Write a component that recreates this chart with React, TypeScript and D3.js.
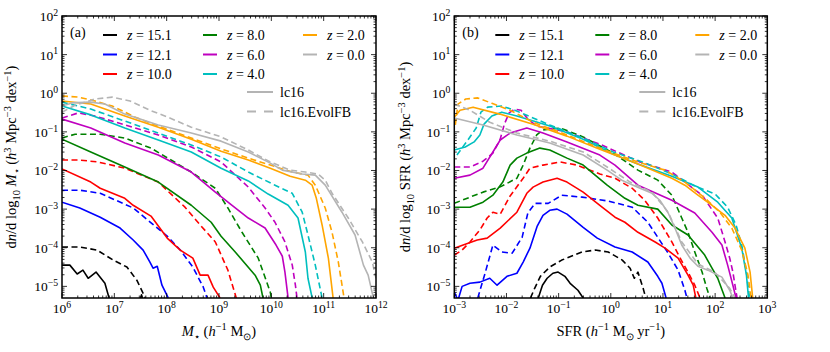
import React from 'react';
import * as d3 from 'd3';

type Pt = [number, number]; // [log10 x, log10 y]
type Run = { t: string; it?: boolean; sup?: boolean; sub?: boolean };

const redshiftLabels = ['15.1', '12.1', '10.0', '8.0', '6.0', '4.0', '2.0', '0.0'];
const seriesColors = ['#000000', '#0000ff', '#ff0000', '#008000', '#bf00bf', '#00bfbf', '#ffa500', '#b4b4b4'];
const modelLabels = ['lc16', 'lc16.EvolFB'];

// (a) stellar mass function, lc16 (solid), one list per redshift
const smfLc16: Pt[][] = [
  [[6, -4.45], [6.15, -4.45], [6.29, -4.68], [6.4, -4.58], [6.5, -4.79], [6.65, -4.63], [6.82, -4.92], [6.92, -5.4], [7.45, -5.5], [7.52, -5.22], [7.58, -5.5]],
  [[6, -2.82], [6.34, -2.97], [6.73, -3.21], [7.11, -3.49], [7.36, -3.8], [7.55, -4.06], [7.68, -4.37], [7.74, -4.53], [7.82, -4.48], [7.91, -4.97], [8.03, -5.3]],
  [[6, -1.96], [6.55, -2.3], [6.73, -2.46], [7.2, -2.72], [7.36, -2.9], [7.7, -3.18], [8.01, -3.75], [8.26, -4.06], [8.5, -4.27], [8.64, -4.71], [8.79, -4.71], [8.89, -5.02], [9.02, -5.3]],
  [[6, -1.19], [6.55, -1.52], [7.2, -1.91], [7.84, -2.3], [8.47, -2.9], [8.85, -3.34], [9.04, -3.7], [9.31, -4.11], [9.69, -4.71], [9.79, -4.97], [9.84, -5.3]],
  [[6, -0.67], [6.55, -0.9], [7.2, -1.29], [7.84, -1.6], [8.47, -2.04], [8.93, -2.56], [9.25, -2.9], [9.56, -3.23], [9.88, -3.49], [10.09, -3.93], [10.21, -4.22], [10.26, -4.63], [10.32, -5.3]],
  [[6, -0.33], [6.55, -0.56], [7.2, -0.9], [7.84, -1.21], [8.47, -1.52], [9.04, -1.94], [9.56, -2.27], [9.94, -2.61], [10.32, -2.9], [10.51, -3.23], [10.65, -4.11], [10.7, -4.79], [10.78, -5.3]],
  [[6, -0.2], [6.55, -0.28], [7.2, -0.59], [7.84, -0.88], [8.47, -1.19], [9.04, -1.5], [9.56, -1.73], [9.98, -1.94], [10.36, -2.15], [10.65, -2.25], [10.78, -2.38], [10.86, -2.72], [10.97, -3.41], [11.09, -4.27], [11.18, -5.3]],
  [[6, -0.33], [6.19, -0.25], [6.54, -0.23], [6.82, -0.28], [7.2, -0.54], [7.84, -0.82], [8.47, -1.03], [9.04, -1.24], [9.56, -1.52], [9.98, -1.81], [10.21, -1.99], [10.59, -2.09], [10.84, -2.12], [11.03, -2.38], [11.35, -3.08], [11.6, -3.67], [11.76, -4.45], [11.85, -4.71], [11.95, -5.3]],
];

// (a) stellar mass function, lc16.EvolFB (dashed)
const smfEvolFB: Pt[][] = [
  [[6, -3.98], [6.34, -3.98], [6.67, -4.06], [6.98, -4.32], [7.24, -4.5], [7.43, -4.84], [7.55, -5.18], [7.59, -5.3]],
  [[6, -2.51], [6.34, -2.51], [6.73, -2.59], [7.36, -2.97], [8.01, -3.7], [8.26, -4.06], [8.5, -4.5], [8.7, -5.02], [8.77, -5.3]],
  [[6, -1.73], [6.34, -1.73], [6.69, -1.78], [7.2, -1.94], [7.84, -2.3], [8.35, -2.95], [8.66, -3.44], [8.93, -3.85], [9.17, -4.58], [9.33, -5.3]],
  [[6, -1.16], [6.25, -1.06], [6.73, -1.06], [7.2, -1.16], [7.7, -1.42], [8.47, -2.04], [8.93, -2.46], [9.17, -2.97], [9.44, -3.6], [9.75, -4.27], [9.98, -5.15], [10.0, -5.3]],
  [[6, -0.64], [6.31, -0.51], [6.63, -0.59], [7.2, -0.82], [7.84, -1.08], [8.47, -1.39], [9.04, -1.78], [9.56, -2.43], [9.88, -2.97], [10.07, -3.34], [10.26, -3.85], [10.4, -4.45], [10.46, -4.97], [10.49, -5.3]],
  [[6, -0.23], [6.55, -0.41], [7.2, -0.72], [7.84, -1.03], [8.47, -1.34], [9.04, -1.65], [9.56, -2.04], [10.07, -2.38], [10.4, -2.59], [10.59, -3.08], [10.7, -3.67], [10.84, -4.45], [10.97, -5.3]],
  [[6, -0.07], [6.31, -0.1], [6.63, -0.2], [6.96, -0.33], [7.4, -0.62], [7.84, -0.85], [8.47, -1.16], [9.04, -1.44], [9.56, -1.68], [9.98, -1.86], [10.4, -2.04], [10.7, -2.12], [10.84, -2.38], [11.03, -2.97], [11.16, -3.6], [11.28, -4.37], [11.39, -5.3]],
  [[6, -0.49], [6.25, -0.31], [6.63, -0.15], [6.96, -0.1], [7.3, -0.2], [7.68, -0.44], [8.06, -0.64], [8.47, -0.88], [9.04, -1.13], [9.56, -1.47], [9.98, -1.78], [10.36, -1.99], [10.65, -2.04], [10.89, -2.09], [11.03, -2.25], [11.16, -2.59], [11.47, -3.23], [11.74, -3.85], [11.93, -4.37], [12.0, -4.79]],
];

// (b) star formation rate function, lc16 (solid)
const sfrfLc16: Pt[][] = [
  [[-1.39, -5.3], [-1.31, -4.97], [-1.22, -4.79], [-1.11, -4.66], [-1.01, -4.63], [-0.88, -4.74], [-0.78, -4.92], [-0.63, -5.1], [-0.53, -5.3]],
  [[-3.0, -5.15], [-2.93, -5.36], [-2.85, -5.0], [-2.7, -4.92], [-2.51, -4.89], [-2.32, -4.79], [-2.18, -4.97], [-1.99, -4.74], [-1.8, -4.66], [-1.68, -4.37], [-1.55, -4.01], [-1.41, -3.44], [-1.3, -3.16], [-1.17, -3.03], [-1.03, -3.0], [-0.84, -3.13], [-0.53, -3.47], [-0.26, -3.75], [0.08, -3.98], [0.41, -4.11], [0.71, -4.37], [0.9, -4.74], [0.98, -4.92], [1.06, -5.3]],
  [[-3.0, -4.01], [-2.83, -3.93], [-2.56, -3.8], [-2.37, -3.75], [-2.12, -3.49], [-1.8, -3.08], [-1.61, -2.59], [-1.49, -2.43], [-1.3, -2.3], [-1.03, -2.2], [-0.84, -2.3], [-0.53, -2.56], [-0.21, -2.9], [0.08, -3.21], [0.27, -3.34], [0.52, -3.6], [0.85, -3.85], [1.04, -4.01], [1.29, -4.27], [1.48, -4.71], [1.58, -4.97], [1.63, -5.3]],
  [[-3.0, -2.95], [-2.7, -2.95], [-2.45, -2.82], [-2.26, -2.64], [-2.07, -2.3], [-1.93, -1.86], [-1.8, -1.68], [-1.61, -1.55], [-1.36, -1.42], [-1.17, -1.47], [-0.84, -1.68], [-0.53, -1.86], [-0.07, -2.38], [0.27, -2.72], [0.52, -2.9], [0.9, -3.0], [1.17, -3.41], [1.48, -3.67], [1.8, -4.19], [1.94, -4.53], [2.05, -4.79], [2.19, -5.3]],
  [[-3.0, -2.2], [-2.7, -2.12], [-2.45, -1.94], [-2.26, -1.52], [-2.12, -1.21], [-1.93, -1.03], [-1.61, -0.9], [-1.3, -1.03], [-0.84, -1.26], [-0.21, -1.6], [0.08, -1.86], [0.52, -2.38], [1.17, -2.77], [1.61, -3.1], [1.94, -3.6], [2.13, -3.93], [2.24, -4.45], [2.34, -4.97], [2.4, -5.3]],
  [[-3.0, -1.47], [-2.79, -1.39], [-2.62, -1.26], [-2.51, -1.08], [-2.43, -0.8], [-2.28, -0.59], [-2.09, -0.49], [-1.8, -0.59], [-1.17, -0.85], [-0.53, -1.19], [0.05, -1.58], [0.52, -1.83], [1.17, -2.15], [1.67, -2.43], [2.05, -2.82], [2.32, -3.23], [2.51, -4.01], [2.6, -4.71], [2.64, -5.3]],
  [[-3.0, -0.62], [-2.89, -0.44], [-2.64, -0.36], [-2.13, -0.54], [-1.49, -0.8], [-0.84, -1.11], [-0.21, -1.45], [0.52, -1.83], [1.17, -2.2], [1.42, -2.38], [1.67, -2.64], [1.94, -2.9], [2.19, -3.16], [2.38, -3.49], [2.57, -4.01], [2.67, -4.63], [2.72, -5.3]],
  [[-3.0, -0.64], [-2.45, -0.82], [-1.8, -1.08], [-1.17, -1.29], [-0.53, -1.6], [-0.07, -1.99], [0.21, -2.25], [0.56, -2.46], [0.79, -2.59], [0.94, -2.77], [1.1, -3.1], [1.23, -3.49], [1.36, -3.93], [1.52, -4.27], [1.67, -4.48], [1.86, -4.58], [2.13, -4.76], [2.28, -5.1], [2.34, -5.3]],
];

// (b) star formation rate function, lc16.EvolFB (dashed)
const sfrfEvolFB: Pt[][] = [
  [[-1.54, -5.3], [-1.46, -5.05], [-1.35, -4.74], [-1.17, -4.5], [-0.94, -4.32], [-0.55, -4.11], [-0.3, -4.06], [-0.05, -4.11], [0.22, -4.32], [0.37, -4.53], [0.45, -4.79], [0.52, -4.63], [0.62, -5.05], [0.67, -5.3]],
  [[-2.55, -5.3], [-2.41, -4.66], [-2.26, -3.93], [-2.09, -4.11], [-1.89, -4.14], [-1.7, -3.73], [-1.59, -3.1], [-1.45, -2.85], [-1.2, -2.85], [-0.94, -2.64], [-0.55, -2.69], [-0.05, -2.79], [0.41, -2.95], [0.71, -3.34], [0.9, -3.73], [1.1, -4.14], [1.29, -4.58], [1.42, -5.1], [1.46, -5.3]],
  [[-3.0, -4.19], [-2.85, -4.06], [-2.7, -3.85], [-2.51, -3.54], [-2.37, -3.23], [-2.26, -3.08], [-2.12, -3.13], [-1.93, -2.66], [-1.68, -2.2], [-1.55, -1.94], [-1.3, -1.86], [-0.97, -1.78], [-0.65, -1.86], [-0.21, -2.09], [0.08, -2.2], [0.41, -2.46], [0.65, -2.77], [0.9, -3.23], [1.17, -3.85], [1.33, -4.27], [1.48, -4.63], [1.61, -4.97], [1.71, -5.3]],
  [[-3.0, -2.85], [-2.7, -2.69], [-2.45, -2.56], [-2.13, -2.43], [-1.8, -2.2], [-1.68, -1.86], [-1.55, -1.42], [-1.42, -1.08], [-1.3, -0.95], [-0.97, -0.9], [-0.53, -1.13], [0.05, -1.55], [0.52, -1.99], [0.9, -2.25], [1.17, -2.64], [1.36, -3.23], [1.48, -3.6], [1.61, -4.11], [1.75, -4.63], [1.84, -5.05], [1.9, -5.3]],
  [[-3.0, -1.91], [-2.7, -1.91], [-2.45, -1.76], [-2.26, -1.55], [-2.12, -1.19], [-2.04, -0.8], [-1.95, -0.51], [-1.84, -0.41], [-1.72, -0.44], [-1.59, -0.67], [-1.42, -0.85], [-0.84, -1.0], [-0.21, -1.32], [0.56, -1.78], [1.17, -2.04], [1.42, -2.3], [1.75, -2.64], [2.05, -3.23], [2.19, -3.85], [2.28, -4.27], [2.34, -4.63], [2.42, -5.3]],
  [[-2.95, -1.6], [-2.74, -1.21], [-2.58, -0.9], [-2.49, -0.49], [-2.36, -0.36], [-2.09, -0.33], [-1.84, -0.44], [-1.17, -0.82], [-0.53, -1.16], [0.05, -1.52], [0.67, -1.81], [1.17, -2.09], [1.61, -2.4], [2.0, -2.61], [2.24, -2.95], [2.4, -3.41], [2.51, -3.93], [2.6, -4.63], [2.66, -5.3]],
  [[-2.98, -0.82], [-2.93, -0.28], [-2.78, -0.15], [-2.55, -0.12], [-2.28, -0.26], [-1.93, -0.44], [-1.49, -0.75], [-0.84, -1.08], [-0.21, -1.42], [0.52, -1.78], [1.04, -1.99], [1.42, -2.3], [1.81, -2.72], [2.09, -3.08], [2.32, -3.49], [2.51, -4.06], [2.63, -4.71], [2.69, -5.3]],
  [[-3.0, -0.28], [-2.7, -0.44], [-2.32, -0.75], [-1.8, -1.03], [-1.17, -1.24], [-0.53, -1.52], [-0.07, -1.91], [0.37, -2.3], [0.79, -2.56], [1.1, -3.08], [1.36, -3.85], [1.67, -4.42], [1.99, -4.63], [2.28, -5.05], [2.38, -5.3]],
];

const FONT = "'Liberation Serif', 'Times New Roman', serif";
const yScale = d3.scaleLog().domain([5e-6, 1e2]).range([298, 16]);

function rich(runs: Run[], size: number) {
  let shift = 0;
  return runs.map((r, i) => {
    const target = r.sup ? -0.38 * size : r.sub ? 0.28 * size : 0;
    const dy = target - shift;
    shift = target;
    return (
      <tspan key={i} dy={dy} fontStyle={r.it ? 'italic' : undefined} fontSize={r.sup || r.sub ? size * 0.72 : undefined}>
        {r.t}
      </tspan>
    );
  });
}

const expLabel = (e: number): Run[] => [{ t: '10' }, { t: e < 0 ? '\u2212' + -e : String(e), sup: true }];

function Panel(props: {
  id: string; xLo: number; xHi: number; left: number; right: number;
  solid: Pt[][]; dashed: Pt[][]; tag: string; xLabel: Run[]; yLabel: Run[]; yLabelX: number;
}) {
  const { id, xLo, xHi, left, right, solid, dashed } = props;
  const x = d3.scaleLog().domain([Math.pow(10, xLo), Math.pow(10, xHi)]).range([left, right]);
  const y = yScale;
  const top = 16, bottom = 298;
  const line = d3.line<Pt>().x(d => x(Math.pow(10, d[0]))).y(d => y(Math.pow(10, d[1])));

  const xMajor = d3.range(xLo, xHi + 1);
  const yMajor = d3.range(-5, 3);
  const minors = (lo: number, hi: number) => {
    const out: number[] = [];
    for (let e = lo; e < hi; e++) for (let k = 2; k <= 9; k++) out.push(k * Math.pow(10, e));
    return out;
  };
  const xMinor = minors(xLo, xHi);
  const yMinor = minors(-6, 2).filter(v => v >= 5e-6);
  const M = 5, m = 2.5;
  const tickFs = 13.5, labFs = 14.5, legFs = 14;

  return (
    <g fontFamily={FONT}>
      <defs>
        <clipPath id={id}><rect x={left} y={top} width={right - left} height={bottom - top} /></clipPath>
      </defs>
      <g clipPath={`url(#${id})`} fill="none" strokeWidth={1.6} strokeLinejoin="round">
        {solid.map((c, i) => (
          <g key={i}>
            <path d={line(c) || ''} stroke={seriesColors[i]} />
            <path d={line(dashed[i]) || ''} stroke={seriesColors[i]} strokeDasharray="6,3.5" />
          </g>
        ))}
      </g>
      {/* ticks, pointing inward on all four sides */}
      <g stroke="#000" strokeWidth={0.8}>
        {xMajor.map(e => { const px = x(Math.pow(10, e)); return (
          <g key={'xM' + e}><line x1={px} x2={px} y1={bottom} y2={bottom - M} /><line x1={px} x2={px} y1={top} y2={top + M} /></g>); })}
        {xMinor.map((v, i) => { const px = x(v); return (
          <g key={'xm' + i}><line x1={px} x2={px} y1={bottom} y2={bottom - m} /><line x1={px} x2={px} y1={top} y2={top + m} /></g>); })}
        {yMajor.map(e => { const py = y(Math.pow(10, e)); return (
          <g key={'yM' + e}><line y1={py} y2={py} x1={left} x2={left + M} /><line y1={py} y2={py} x1={right} x2={right - M} /></g>); })}
        {yMinor.map((v, i) => { const py = y(v); return (
          <g key={'ym' + i}><line y1={py} y2={py} x1={left} x2={left + m} /><line y1={py} y2={py} x1={right} x2={right - m} /></g>); })}
      </g>
      <rect x={left} y={top} width={right - left} height={bottom - top} fill="none" stroke="#000" strokeWidth={1.5} />
      {/* tick labels */}
      <g fontSize={tickFs} fill="#000">
        {xMajor.map(e => (
          <text key={'xl' + e} x={x(Math.pow(10, e))} y={313} textAnchor="middle">{rich(expLabel(e), tickFs)}</text>
        ))}
        {yMajor.map(e => (
          <text key={'yl' + e} x={left - 4} y={y(Math.pow(10, e)) + 5} textAnchor="end">{rich(expLabel(e), tickFs)}</text>
        ))}
      </g>
      <text x={(left + right) / 2} y={336} textAnchor="middle" fontSize={labFs}>{rich(props.xLabel, labFs)}</text>
      <text transform={`translate(${props.yLabelX},157) rotate(-90)`} textAnchor="middle" fontSize={labFs}>{rich(props.yLabel, labFs)}</text>
      <text x={left + 8} y={37} fontSize={legFs}>{props.tag}</text>
      {/* legend */}
      <g fontSize={legFs}>
        {redshiftLabels.map((z, i) => {
          const col = Math.floor(i / 3), row = i % 3;
          const lx = left + 41 + col * 100, ly = 35 + row * 19.5;
          return (
            <g key={'lg' + i}>
              <line x1={lx} x2={lx + 14} y1={ly} y2={ly} stroke={seriesColors[i]} strokeWidth={2} />
              <text x={lx + 24} y={ly + 5}>{rich([{ t: 'z', it: true }, { t: ' = ' + z }], legFs)}</text>
            </g>
          );
        })}
        {modelLabels.map((lab, i) => {
          const lx = left + 185, ly = 92 + i * 19.5;
          return (
            <g key={'md' + i}>
              <line x1={lx} x2={lx + 26} y1={ly} y2={ly} stroke="#b4b4b4" strokeWidth={2} strokeDasharray={i ? '9,8' : undefined} />
              <text x={lx + 33} y={ly + 5}>{lab}</text>
            </g>
          );
        })}
      </g>
    </g>
  );
}

const yLabelA: Run[] = [
  { t: 'd' }, { t: 'n', it: true }, { t: '/d log' }, { t: '10', sub: true }, { t: ' ' }, { t: 'M', it: true }, { t: '\u22c6', sub: true },
  { t: ' (' }, { t: 'h', it: true }, { t: '3', sup: true }, { t: ' Mpc' }, { t: '\u22123', sup: true }, { t: ' dex' }, { t: '\u22121', sup: true }, { t: ')' },
];
const yLabelB: Run[] = [
  { t: 'd' }, { t: 'n', it: true }, { t: '/d log' }, { t: '10', sub: true }, { t: ' SFR (' }, { t: 'h', it: true }, { t: '3', sup: true },
  { t: ' Mpc' }, { t: '\u22123', sup: true }, { t: ' dex' }, { t: '\u22121', sup: true }, { t: ')' },
];
const xLabelA: Run[] = [
  { t: 'M', it: true }, { t: '\u22c6', sub: true }, { t: ' (' }, { t: 'h', it: true }, { t: '\u22121', sup: true }, { t: ' M' }, { t: '\u2299', sub: true }, { t: ')' },
];
const xLabelB: Run[] = [
  { t: 'SFR (' }, { t: 'h', it: true }, { t: '\u22121', sup: true }, { t: ' M' }, { t: '\u2299', sub: true }, { t: ' yr' }, { t: '\u22121', sup: true }, { t: ')' },
];

export default function App() {
  return (
    <svg width={830} height={352} style={{ position: 'absolute', left: 0, top: 0, background: '#fff' }}>
      <Panel id="clipA" xLo={6} xHi={12} left={62} right={376} solid={smfLc16} dashed={smfEvolFB} tag="(a)"
        xLabel={xLabelA} yLabel={yLabelA} yLabelX={16} />
      <Panel id="clipB" xLo={-3} xHi={3} left={454.3} right={767.3} solid={sfrfLc16} dashed={sfrfEvolFB} tag="(b)"
        xLabel={xLabelB} yLabel={yLabelB} yLabelX={410} />
    </svg>
  );
}
